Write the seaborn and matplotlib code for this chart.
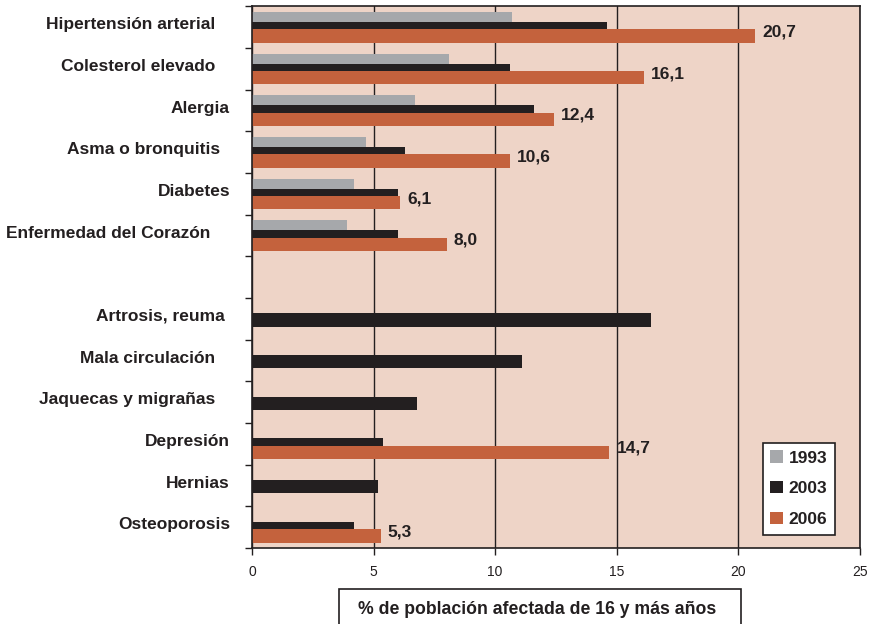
import numpy as np
import pandas as pd
import seaborn as sns
import matplotlib.pyplot as plt
from matplotlib.patches import Patch, Rectangle

# data
categories = ["Hipertensión arterial   ", "Colesterol elevado   ", "Alergia",
              "Asma o bronquitis  ", "Diabetes", "Enfermedad del Corazón    ",
              "Artrosis, reuma ", "Mala circulación   ", "Jaquecas y migrañas   ",
              "Depresión", "Hernias", "Osteoporosis"]
v1993 = [10.7, 8.1, 6.7, 4.7, 4.2, 3.9, np.nan, np.nan, np.nan, np.nan, np.nan, np.nan]
v2003 = [14.6, 10.6, 11.6, 6.3, 6.0, 6.0, 16.4, 11.1, 6.8, 5.4, 5.2, 4.2]
v2006 = [20.7, 16.1, 12.4, 10.6, 6.1, 8.0, np.nan, np.nan, np.nan, 14.7, np.nan, 5.3]
years = ["1993", "2003", "2006"]
x_label = "% de población afectada de 16 y más años"

colors = {"1993": "#A6A8AB", "2003": "#231F20", "2006": "#C4623D"}
offsets = {"1993": -0.21, "2003": 0.03, "2006": 0.21}
bg = "#EED4C7"
dark = "#231F20"

sns.set_theme(style="white")
plt.rcParams["font.family"] = ["Liberation Sans", "DejaVu Sans"]

# one empty row between the first six and the rest
idx = np.arange(len(categories))
slot = idx + (idx >= 6)

df = pd.DataFrame({"cat": categories, "slot": slot,
                   "1993": v1993, "2003": v2003, "2006": v2006})
long = df.melt(id_vars=["cat", "slot"], value_vars=years,
               var_name="year", value_name="pct").dropna()
long["ypos"] = long["slot"] + long["year"].map(offsets)

fig, ax = plt.subplots(figsize=(8.73, 6.24), dpi=100)
fig.subplots_adjust(left=0.2887, right=0.985, top=0.9896, bottom=0.1218)
ax.set_facecolor(bg)

for yr in years:
    sub = long[long["year"] == yr]
    sns.barplot(data=sub, x="pct", y="ypos", orient="y", native_scale=True,
                width=0.32, color=colors[yr], saturation=1, errorbar=None,
                linewidth=0, ax=ax)

ax.set_xlim(0, 25)
ax.set_ylim(slot.max() + 0.5, -0.5)
ax.set_xticks(range(0, 26, 5))
ax.set_yticks(np.arange(-0.5, slot.max() + 1, 1))
ax.set_yticklabels([])
ax.xaxis.grid(True, color=dark, lw=1)
ax.set_axisbelow(True)
ax.set_xlabel("")
ax.set_ylabel("")
for s in ax.spines.values():
    s.set_color(dark)
    s.set_linewidth(1.2)
ax.tick_params(axis="y", left=True, length=5, width=1, color=dark, direction="out")
ax.tick_params(axis="x", bottom=True, length=5, width=1, color=dark, direction="out",
               pad=7, labelsize=10, labelcolor=dark)

# category labels
for name, s in zip(categories, slot):
    ax.annotate(name, xy=(0, s - 0.06), xycoords=("axes fraction", "data"),
                xytext=(-22, 0), textcoords="offset pixels", ha="right", va="center",
                fontsize=12.5, fontweight="bold", color=dark)

# value labels on the 2006 bars
for v, s in zip(v2006, slot):
    if np.isnan(v):
        continue
    ax.annotate(f"{v:.1f}".replace(".", ","), xy=(v, s + 0.11), xytext=(7, 0),
                textcoords="offset pixels", ha="left", va="center",
                fontsize=12.5, fontweight="bold", color=dark)

handles = [Patch(facecolor=colors[y], edgecolor="none", label=y) for y in years]
leg = ax.legend(handles=handles, loc="lower left", bbox_to_anchor=(0.840, 0.024),
                frameon=True, fancybox=False, framealpha=1, edgecolor=dark,
                handlelength=0.7, handleheight=0.7, handletextpad=0.35,
                labelspacing=0.9, borderpad=0.45, borderaxespad=0,
                prop={"weight": "bold", "size": 12.5})
leg.get_frame().set_linewidth(1.2)
for t in leg.get_texts():
    t.set_color(dark)

# boxed axis title under the ticks
fig.add_artist(Rectangle((339 / 873, -0.02), 402 / 873, 35 / 624 + 0.02,
                         transform=fig.transFigure, facecolor="white",
                         edgecolor=dark, lw=1.2))
fig.text(537 / 873, 1 - 610 / 624, x_label, ha="center", va="center",
         fontsize=12.7, fontweight="bold", color=dark)

fig.savefig("out.png", dpi=100)
